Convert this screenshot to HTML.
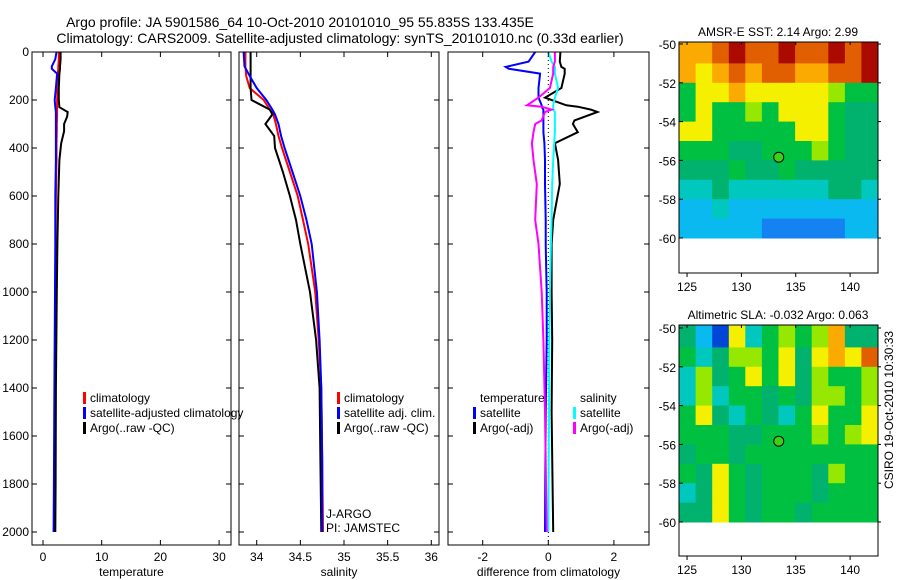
<!DOCTYPE html>
<html><head><meta charset="utf-8"><style>
body{margin:0;background:#fff;}
svg{display:block;font-family:"Liberation Sans",sans-serif;}
</style></head><body>
<svg id="fig" width="900" height="580" viewBox="0 0 900 580">
<g id="titles">
<text x="300" y="27" font-size="14" text-anchor="middle">Argo profile: JA 5901586_64 10-Oct-2010 20101010_95 55.835S 133.435E</text>
<text x="340" y="43" font-size="14" text-anchor="middle">Climatology: CARS2009. Satellite-adjusted climatology: synTS_20101010.nc (0.33d earlier)</text>
</g>
</svg>
<script>
// ---- profile data (depth in m) ----
const tDepth=[0,30,60,70,90,150,200,230,250,270,300,330,380,450,600,800,1000,1400,1800,2000];
const tClim=[2.7,2.7,2.6,2.6,2.5,2.5,2.4,2.4,2.4,2.4,2.35,2.35,2.3,2.3,2.2,2.15,2.1,2.0,1.95,1.9];
const tSat=[2.3,2.1,1.5,1.5,2.4,2.2,2.0,2.1,2.2,2.2,2.2,2.2,2.2,2.2,2.1,2.1,2.05,1.95,1.85,1.8];
const tArgo=[3.0,3.0,2.9,2.9,2.8,2.7,2.7,2.8,4.2,4.1,3.6,3.6,3.1,2.8,2.6,2.45,2.35,2.2,2.15,2.1];
const sDepth=[0,60,100,150,200,240,260,300,350,400,500,600,700,800,1000,1200,1400,1700,2000];
const sClim=[33.87,33.87,33.88,33.92,34.08,34.15,34.19,34.22,34.25,34.29,34.38,34.47,34.53,34.59,34.67,34.71,34.74,34.75,34.76];
const sSat=[33.85,33.86,33.92,34.0,34.11,34.18,34.21,34.25,34.28,34.32,34.41,34.5,34.57,34.63,34.69,34.72,34.74,34.75,34.75];
const sArgo=[33.93,33.93,33.93,33.93,33.94,34.15,34.18,34.1,34.2,34.21,34.3,34.38,34.45,34.5,34.61,34.68,34.72,34.73,34.74];
const dDepth=[0,40,62,70,90,150,190,222,228,240,250,285,300,334,380,450,550,700,800,1000,1200,1500,2000];
const dTsat=[-0.4,-0.6,-1.3,-1.2,-0.25,-0.3,-0.3,-0.2,-0.2,-0.15,-0.15,-0.15,-0.15,-0.15,-0.12,-0.1,-0.1,-0.08,-0.08,-0.05,-0.05,-0.08,-0.1];
const dTargo=[0.37,0.35,0.4,0.5,0.5,0.4,-0.1,0.55,0.9,1.3,1.5,0.8,0.75,0.9,0.2,0.3,0.35,0.15,0.1,0.1,0.12,0.1,0.15];
const dSsat=[0.0,0.1,0.2,0.2,0.2,0.3,0.2,0.15,0.15,0.15,0.2,0.2,0.2,0.2,0.18,0.15,0.12,0.1,0.08,0.05,0.03,0.02,0.0];
const dSargo=[0.2,0.2,0.15,0.15,0.15,0.05,-0.3,-0.65,-0.2,0.1,-0.1,-0.2,-0.4,-0.45,-0.5,-0.45,-0.35,-0.4,-0.3,-0.2,-0.15,-0.1,-0.05];
const tTicks=[0,10,20,30], sTicks=[34,34.5,35,35.5,36], dTicks=[-2,0,2];
const depthTicks=[0,200,400,600,800,1000,1200,1400,1600,1800,2000];
// ---- map data: rows -50..-60 (1 deg), 12 cols spanning 124.26E..142.57E ----
const sstGrid=[
[8,8,9,10,9,9,10,9,9,10,9,10],
[8,7,8,9,8,9,9,8,8,9,9,10],
[5,7,7,8,7,7,7,7,7,6,5,5],
[5,7,5,5,6,5,7,7,7,5,4,4],
[7,7,5,5,5,5,5,7,7,5,4,4],
[5,5,5,4,4,5,5,5,6,5,4,4],
[4,4,4,5,4,4,5,4,4,4,4,4],
[3,3,4,3,3,3,3,3,3,4,4,3],
[2,2,3,2,2,2,2,2,2,2,2,2],
[2,2,2,2,2,1,1,1,1,1,2,2]];
const slaGrid=[
[4,2,0,7,3,5,6,5,6,8,4,4],
[5,3,4,6,6,5,7,4,7,8,7,9],
[3,6,4,5,7,5,7,4,6,5,5,6],
[3,6,3,5,5,4,5,4,6,6,5,6],
[5,7,4,3,5,4,3,5,7,5,5,7],
[5,5,5,4,4,5,5,5,6,5,6,7],
[4,5,5,4,5,5,5,5,5,5,5,5],
[5,4,7,5,4,5,5,5,4,6,5,5],
[3,4,7,5,4,5,5,5,4,5,5,5],
[4,4,7,5,4,5,5,4,5,5,5,5]];
const lonTicks=[125,130,135,140], latTicks=[-50,-52,-54,-56,-58,-60];
const argoLon=133.435, argoLat=-55.835;

const NS="http://www.w3.org/2000/svg";
const svg=document.getElementById('fig');
function mk(tag,attrs,parent){const e=document.createElementNS(NS,tag);for(const k in attrs)e.setAttribute(k,attrs[k]);(parent||svg).appendChild(e);return e;}
function txt(x,y,s,anchor,parent,size){const t=mk('text',{x:x,y:y,'font-size':size||12,'text-anchor':anchor||'middle'},parent);t.textContent=s;return t;}
const yD=d=>52+d*0.24;

function panel(name,x0,x1,xs,ticks,fmt,label,series,showDepth){
  const g=mk('g',{});
  
  
  series.forEach(s=>{
    const pts=s.depth.map((d,i)=>xs(s.vals[i]).toFixed(1)+','+yD(d).toFixed(1)).join(' ');
    const p=mk('polyline',{points:pts,fill:'none',stroke:s.color,'stroke-width':2},g);
    
    
  });
  const r=mk('rect',{x:x0,y:52,width:x1-x0,height:493,fill:'none',stroke:'#000','stroke-width':1},g);
  
  
  ticks.forEach(v=>{const x=xs(v);mk('line',{x1:x,x2:x,y1:52,y2:57,stroke:'#000'},g);mk('line',{x1:x,x2:x,y1:545,y2:540,stroke:'#000'},g);
    const t=txt(x,561,fmt(v),'middle',g);});
  depthTicks.forEach(d=>{const y=yD(d);mk('line',{x1:x0,x2:x0+5,y1:y,y2:y,stroke:'#000'},g);mk('line',{x1:x1,x2:x1-5,y1:y,y2:y,stroke:'#000'},g);
    if(showDepth){const t=txt(x0-3,y+4,String(d),'end',g);}});
  const xl=txt((x0+x1)/2,576,label,'middle',g);
  
  
  return g;
}
const xT=v=>43+v*5.87, xS=v=>256.7+(v-34)*87.3, xDf=v=>548.3+v*32.8;
panel('temperature-panel',32,231,xT,tTicks,String,'temperature',[
 {name:'temp-climatology',depth:tDepth,vals:tClim,color:'#f00'},
 {name:'temp-satellite-adjusted',depth:tDepth,vals:tSat,color:'#00f'},
 {name:'temp-argo',depth:tDepth,vals:tArgo,color:'#000'}],true);
panel('salinity-panel',239,439,xS,sTicks,String,'salinity',[
 {name:'sal-climatology',depth:sDepth,vals:sClim,color:'#f00'},
 {name:'sal-argo',depth:sDepth,vals:sArgo,color:'#000'},
 {name:'sal-satellite-adjusted',depth:sDepth,vals:sSat,color:'#00f'}],false);
const dz=mk('line',{x1:xDf(0),x2:xDf(0),y1:52,y2:545,stroke:'#000','stroke-dasharray':'1,3'});


panel('difference-panel',448,649,xDf,dTicks,String,'difference from climatology',[
 {name:'diff-temp-satellite',depth:dDepth,vals:dTsat,color:'#00f'},
 {name:'diff-temp-argo',depth:dDepth,vals:dTargo,color:'#000'},
 {name:'diff-sal-satellite',depth:dDepth,vals:dSsat,color:'#0ff'},
 {name:'diff-sal-argo',depth:dDepth,vals:dSargo,color:'#f0f'}],false);

function legend(name,x,y,items){
  const g=mk('g',{});
  
  
  items.forEach((it,i)=>{const yy=y+i*15;
    if(it.c){mk('rect',{x:x,y:yy-10,width:3,height:12,fill:it.c},g);}
    const t=txt(x+7,yy,it.t,'start',g);});
}
legend('temperature-legend',83,402,[{c:'#f00',t:'climatology'},{c:'#00f',t:'satellite-adjusted climatology'},{c:'#000',t:'Argo(..raw -QC)'}]);
legend('salinity-legend',337,402,[{c:'#f00',t:'climatology'},{c:'#00f',t:'satellite adj. clim.'},{c:'#000',t:'Argo(..raw -QC)'}]);
legend('diff-temp-legend',473,402,[{c:null,t:'temperature'},{c:'#00f',t:'satellite'},{c:'#000',t:'Argo(-adj)'}]);
legend('diff-sal-legend',573,402,[{c:null,t:'salinity'},{c:'#0ff',t:'satellite'},{c:'#f0f',t:'Argo(-adj)'}]);
txt(326,518,'J-ARGO','start');
txt(326,532,'PI: JAMSTEC','start');

const cmap=['rgb(0,70,215)','rgb(20,130,240)','rgb(10,185,240)','rgb(0,200,190)','rgb(0,178,110)','rgb(0,192,65)','rgb(150,232,0)','rgb(245,240,0)','rgb(250,170,0)','rgb(225,95,0)','rgb(170,10,0)'];
function map(name,top,latTop,title,grid){
  const g=mk('g',{});
  
  
  const L=679,R=878,lonX=v=>679+(v-124.26)*10.87, latY=v=>latTop+(-50-v)*19.4;
  const cw=(142.57-124.26)/grid[0].length;
  grid.forEach((row,ri)=>row.forEach((v,ci)=>{
    const lon=124.26+ci*cw;
    const x=lonX(lon), y=ri===0?top:latY(-50-ri), w=lonX(lon+cw)-x, h=latY(-51-ri)-y;
    const c=mk('rect',{x:x.toFixed(1),y:y.toFixed(1),width:(w+0.5).toFixed(1),height:(h+0.5).toFixed(1),fill:cmap[v]},g);
    
    
  }));
  const bottom=top+231;
  mk('rect',{x:L,y:top,width:R-L,height:bottom-top,fill:'none',stroke:'#000'},g);
  latTicks.forEach(v=>{const y=latY(v);mk('line',{x1:L,x2:L+4,y1:y,y2:y,stroke:'#000'},g);mk('line',{x1:R,x2:R+3,y1:y,y2:y,stroke:'#000'},g);
    const t=txt(L-3,y+5,String(v),'end',g);});
  lonTicks.forEach(v=>{const x=lonX(v);mk('line',{x1:x,x2:x,y1:bottom,y2:bottom+4,stroke:'#000'},g);mk('line',{x1:x,x2:x,y1:top,y2:top+3,stroke:'#000'},g);
    const t=txt(x,bottom+18,String(v),'middle',g);});
  const m=mk('circle',{cx:lonX(argoLon),cy:latY(argoLat),r:5,fill:'rgb(60,210,20)',stroke:'#000'},g);
  
  
  const t=txt(778,top-6,title,'middle',g);
  
  
}
map('sst-map',42,44,'AMSR-E SST: 2.14 Argo: 2.99',sstGrid);
map('sla-map',325,328,'Altimetric SLA: -0.032 Argo: 0.063',slaGrid);
const cs=txt(0,0,'CSIRO 19-Oct-2010 10:30:33','middle');
cs.setAttribute('transform','translate(893,410) rotate(-90)');


</script>
</body></html>
